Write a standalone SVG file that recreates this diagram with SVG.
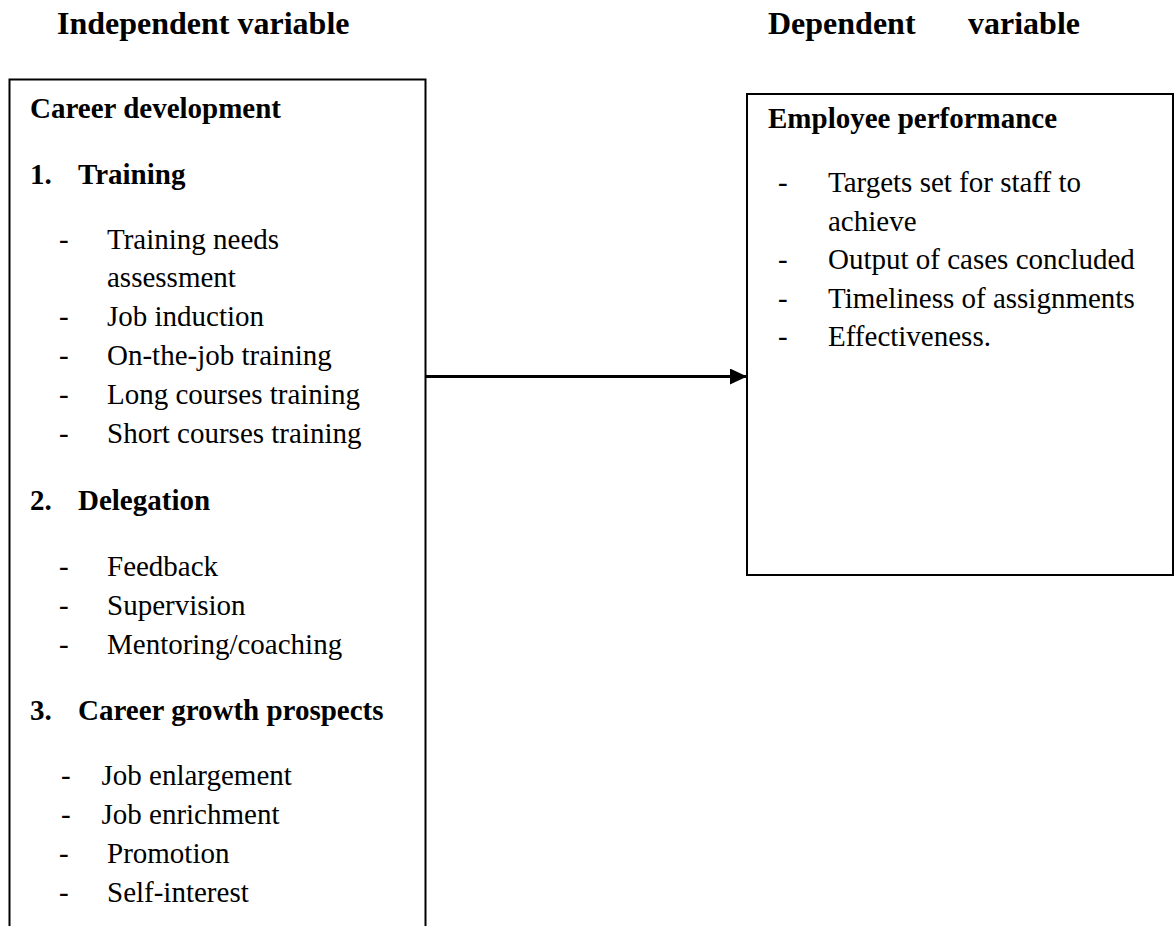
<svg xmlns="http://www.w3.org/2000/svg" width="1174" height="926" viewBox="0 0 1174 926">
<style>
text { font-family: "Liberation Serif", "Times New Roman", serif; fill: #000; }
.h { font-size: 32px; font-weight: bold; }
.b { font-size: 29px; font-weight: bold; }
.t { font-size: 29px; }
.box { fill: #fff; stroke: #000; stroke-width: 2; }
.conn { stroke: #000; stroke-width: 3; fill: none; }
</style>
<defs>
<marker id="arrow" markerUnits="userSpaceOnUse" markerWidth="18" markerHeight="16" refX="17" refY="8" orient="auto">
<path d="M0,0 L17,8 L0,16 Z" fill="#000"/>
</marker>
</defs>
<rect width="1174" height="926" fill="#fff"/>
<g id="titles">
<text class="h" x="57" y="34">Independent variable</text>
<text class="h" x="768" y="34">Dependent</text>
<text class="h" x="968" y="34">variable</text>
</g>
<g id="career-development">
<path class="box" d="M9.5,930 L9.5,79.5 L425.5,79.5 L425.5,930"/>
<text class="b" x="30" y="118">Career development</text>
<text class="b" x="30" y="184">1.</text>
<text class="b" x="78" y="184">Training</text>
<text class="t" x="59" y="248.5">-</text><text class="t" x="107" y="248.5">Training needs</text>
<text class="t" x="107" y="287.3">assessment</text>
<text class="t" x="59" y="326.1">-</text><text class="t" x="107" y="326.1">Job induction</text>
<text class="t" x="59" y="364.9">-</text><text class="t" x="107" y="364.9">On-the-job training</text>
<text class="t" x="59" y="403.7">-</text><text class="t" x="107" y="403.7">Long courses training</text>
<text class="t" x="59" y="442.5">-</text><text class="t" x="107" y="442.5">Short courses training</text>
<text class="b" x="30" y="510">2.</text>
<text class="b" x="78" y="510">Delegation</text>
<text class="t" x="59" y="575.5">-</text><text class="t" x="107" y="575.5">Feedback</text>
<text class="t" x="59" y="614.5">-</text><text class="t" x="107" y="614.5">Supervision</text>
<text class="t" x="59" y="654">-</text><text class="t" x="107" y="654">Mentoring/coaching</text>
<text class="b" x="30" y="720">3.</text>
<text class="b" x="78" y="720">Career growth prospects</text>
<text class="t" x="61" y="785">-</text><text class="t" x="101.5" y="785">Job enlargement</text>
<text class="t" x="61" y="824">-</text><text class="t" x="101.5" y="824">Job enrichment</text>
<text class="t" x="59" y="862.5">-</text><text class="t" x="107" y="862.5">Promotion</text>
<text class="t" x="59" y="901.5">-</text><text class="t" x="107" y="901.5">Self-interest</text>
</g>
<g id="employee-performance">
<path class="box" d="M1180,94 L747,94 L747,575 L1180,575"/>
<line x1="1173" y1="94" x2="1173" y2="575" stroke="#000" stroke-width="2"/>
<text class="b" x="768" y="128">Employee performance</text>
<text class="t" x="778" y="192">-</text><text class="t" x="828" y="192">Targets set for staff to</text>
<text class="t" x="828" y="230.5">achieve</text>
<text class="t" x="778" y="269">-</text><text class="t" x="828" y="269">Output  <tspan>of cases concluded</tspan></text>
<text class="t" x="778" y="307.5">-</text><text class="t" x="828" y="307.5">Timeliness of assignments</text>
<text class="t" x="778" y="346">-</text><text class="t" x="828" y="346">Effectiveness.</text>
</g>
<g id="connectors">
<line class="conn" x1="426" y1="376.5" x2="747" y2="376.5" marker-end="url(#arrow)"/>
</g>
</svg>
